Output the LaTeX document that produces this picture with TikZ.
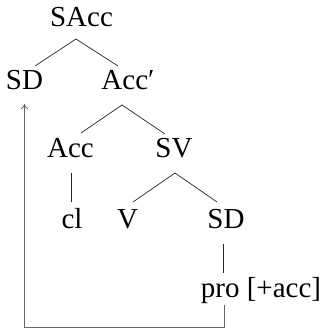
\documentclass[tikz,border=0pt]{standalone}
\usepackage{fontspec}
\setmainfont{Liberation Serif}
\usetikzlibrary{arrows.meta}
\begin{document}
\begin{tikzpicture}[x=1pt,y=-1pt,
  lbl/.style={anchor=base,inner sep=0pt,font=\fontsize{29}{32}\selectfont},
  branch/.style={line width=0.7pt,draw=black!85},
  move/.style={line width=0.8pt,draw=black!60}]
\useasboundingbox (0,0) rectangle (324,331);
\node[lbl] (sacc) at (81.5,27) {SAcc};
\node[lbl] (sd1) at (24.5,90) {SD};
\node[lbl] (accb) at (128,90) {Acc′};
\node[lbl] (acc) at (70.5,157) {Acc};
\node[lbl] (sv) at (174,157) {SV};
\node[lbl] (cl) at (72,228) {cl};
\node[lbl] (v) at (127.5,228) {V};
\node[lbl] (sd2) at (226,228) {SD};
\node[lbl] (pro) at (261,297) {pro [+acc]};
% branches
\draw[branch] ([xshift=-5.5pt,yshift=-12pt]sacc.base) -- ([xshift=10.5pt,yshift=24pt]sd1.base);
\draw[branch] ([xshift=-5.5pt,yshift=-12pt]sacc.base) -- ([xshift=-10pt,yshift=24pt]accb.base);
\draw[branch] ([xshift=-6pt,yshift=-15pt]accb.base) -- ([xshift=10.5pt,yshift=24pt]acc.base);
\draw[branch] ([xshift=-6pt,yshift=-15pt]accb.base) -- ([xshift=-9pt,yshift=23pt]sv.base);
\draw[branch] ([xshift=0.5pt,yshift=-16pt]acc.base) -- ([xshift=-1pt,yshift=26pt]cl.base);
\draw[branch] ([xshift=1pt,yshift=-16pt]sv.base) -- ([xshift=5.5pt,yshift=26pt]v.base);
\draw[branch] ([xshift=1pt,yshift=-16pt]sv.base) -- ([xshift=-9pt,yshift=26pt]sd2.base);
\draw[branch] ([xshift=-3pt,yshift=-16pt]sd2.base) -- ([xshift=-38pt,yshift=24pt]pro.base);
% movement
\coordinate (m1) at ([xshift=-37pt,yshift=-8pt]pro.base);
\coordinate (m2) at (224,327);
\draw[move,-{To[length=5pt,width=7pt]}] (m1) -- (m2) -| ([yshift=-14pt]sd1.base);
\end{tikzpicture}
\end{document}
